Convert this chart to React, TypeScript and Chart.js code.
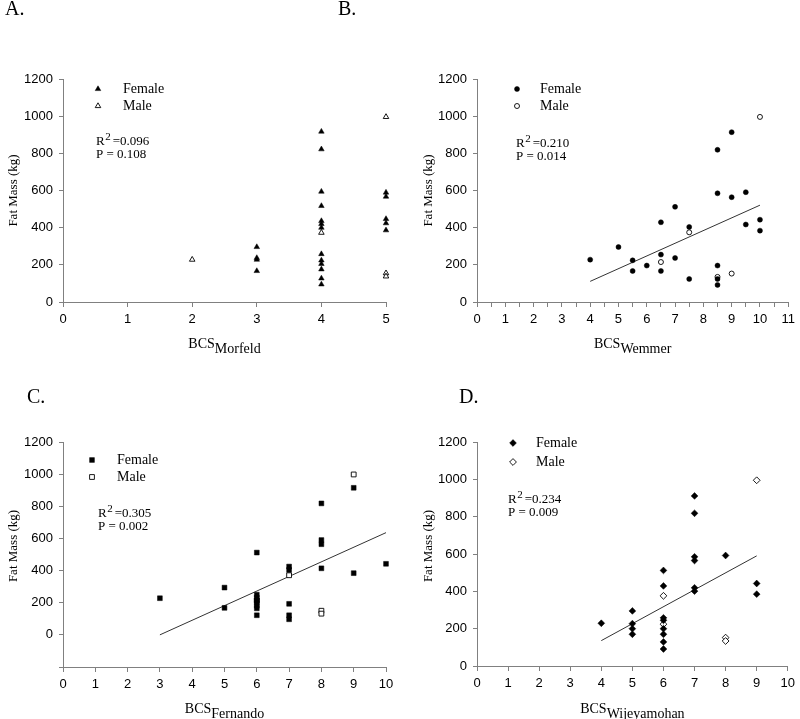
import React, { useEffect, useRef } from 'react';
import { Chart, registerables } from 'chart.js';

Chart.register(...registerables);

const SERIF = '"Liberation Serif", "Times New Roman", serif';
const SANS = '"Liberation Sans", Arial, sans-serif';

// ---------- Panel A : BCS (Morfeld) ----------
const morfeldFemaleX = [3, 3, 3, 3, 4, 4, 4, 4, 4, 4, 4, 4, 4, 4, 4, 4, 4, 5, 5, 5, 5, 5];
const morfeldFemaleY = [296, 237, 228, 167, 917, 822, 594, 517, 436, 420, 400, 258, 224, 205, 176, 127, 95, 589, 567, 447, 424, 386];
const morfeldMaleX = [2, 4, 5, 5, 5];
const morfeldMaleY = [228, 373, 996, 155, 138];

// ---------- Panel B : BCS (Wemmer) ----------
const wemmerFemaleX = [4, 5, 5.5, 5.5, 6, 6.5, 6.5, 6.5, 7, 7, 7.5, 7.5, 8.5, 8.5, 8.5, 8.5, 8.5, 9, 9, 9.5, 9.5, 10, 10];
const wemmerFemaleY = [228, 296, 224, 167, 196, 429, 255, 167, 512, 237, 404, 124, 819, 585, 196, 124, 92, 914, 564, 591, 417, 443, 384];
const wemmerMaleX = [6.5, 7.5, 8.5, 9, 10];
const wemmerMaleY = [215, 375, 135, 153, 996];
const wemmerFitX = [4, 10];
const wemmerFitY = [111, 521];

// ---------- Panel C : BCS (Fernando) ----------
const fernandoFemaleX = [3, 5, 5, 6, 6, 6, 6, 6, 6, 6, 6, 7, 7, 7, 7, 7, 8, 8, 8, 8, 9, 9, 10];
const fernandoFemaleY = [228, 294, 168, 512, 250, 232, 214, 198, 181, 165, 122, 425, 404, 193, 122, 97, 818, 590, 564, 414, 915, 384, 442];
const fernandoMaleX = [6, 7, 8, 8, 9];
const fernandoMaleY = [215, 371, 150, 132, 998];
const fernandoFitX = [3, 10];
const fernandoFitY = [0, 636];

// ---------- Panel D : BCS (Wijeyamohan) ----------
const wijeyamohanFemaleX = [4, 5, 5, 5, 5, 6, 6, 6, 6, 6, 6, 6, 6, 7, 7, 7, 7, 7, 7, 8, 9, 9];
const wijeyamohanFemaleY = [229, 295, 227, 200, 170, 512, 429, 258, 245, 200, 170, 129, 91, 911, 818, 585, 565, 419, 401, 592, 442, 385];
const wijeyamohanMaleX = [6, 6, 8, 8, 9];
const wijeyamohanMaleY = [376, 224, 152, 134, 995];
const wijeyamohanFitX = [4, 9];
const wijeyamohanFitY = [136, 590];

// ---------- tick values ----------
const yTicksStd = [0, 200, 400, 600, 800, 1000, 1200];
const yTicksC = [-200, 0, 200, 400, 600, 800, 1000, 1200];
const xTicksA = [0, 1, 2, 3, 4, 5];
const xTicksB = [0, 0.5, 1, 1.5, 2, 2.5, 3, 3.5, 4, 4.5, 5, 5.5, 6, 6.5, 7, 7.5, 8, 8.5, 9, 9.5, 10, 10.5, 11];
const xTicksC = [0, 1, 2, 3, 4, 5, 6, 7, 8, 9, 10];
const xTicksD = [0, 1, 2, 3, 4, 5, 6, 7, 8, 9, 10];

// ---------- text ----------
const panelLetters = ['A.', 'B.', 'C.', 'D.'];
const statsR2 = ['0.096', '0.210', '0.305', '0.234'];
const statsP = ['0.108', '0.014', '0.002', '0.009'];

// panel-letter placement (page coordinates)
const letterPos = [
  { x: 5, y: 15 },
  { x: 338, y: 15 },
  { x: 27, y: 403 },
  { x: 459, y: 403 },
];

type Marker = 'triangle' | 'circle' | 'rect' | 'rectRot';

type PanelCfg = {
  id: string;
  sub: string;
  left: number;
  top: number;
  width: number;
  height: number;
  padTop: number;
  padRight: number;
  yAxisW: number;
  xAxisH: number;
  xMax: number;
  yMin: number;
  xTicks: number[];
  yTicks: number[];
  marker: Marker;
  radius: number;
  femaleX: number[];
  femaleY: number[];
  maleX: number[];
  maleY: number[];
  fitX?: number[];
  fitY?: number[];
  r2: string;
  p: string;
  xTitleY: number;
  yTitleX: number;
  yTitleY: number;
  legMarkX: number;
  legTextX: number;
  legY1: number;
  legY2: number;
  statsX: number;
  statsY1: number;
  statsY2: number;
};

const panels: PanelCfg[] = [
  {
    id: 'A', sub: 'Morfeld', left: 0, top: 0, width: 400, height: 360,
    padTop: 79, padRight: 14, yAxisW: 63, xAxisH: 58, xMax: 5, yMin: 0,
    xTicks: xTicksA, yTicks: yTicksStd, marker: 'triangle', radius: 3.2,
    femaleX: morfeldFemaleX, femaleY: morfeldFemaleY, maleX: morfeldMaleX, maleY: morfeldMaleY,
    r2: statsR2[0], p: statsP[0],
    xTitleY: 348, yTitleX: 14, yTitleY: 190.5,
    legMarkX: 98, legTextX: 123, legY1: 89, legY2: 106,
    statsX: 96, statsY1: 145, statsY2: 158,
  },
  {
    id: 'B', sub: 'Wemmer', left: 400, top: 0, width: 400, height: 360,
    padTop: 79, padRight: 8, yAxisW: 77, xAxisH: 58, xMax: 11, yMin: 0,
    xTicks: xTicksB, yTicks: yTicksStd, marker: 'circle', radius: 2.5,
    femaleX: wemmerFemaleX, femaleY: wemmerFemaleY, maleX: wemmerMaleX, maleY: wemmerMaleY,
    fitX: wemmerFitX, fitY: wemmerFitY,
    r2: statsR2[1], p: statsP[1],
    xTitleY: 348, yTitleX: 429, yTitleY: 190.5,
    legMarkX: 517, legTextX: 540, legY1: 89, legY2: 106,
    statsX: 516, statsY1: 147, statsY2: 160,
  },
  {
    id: 'C', sub: 'Fernando', left: 0, top: 360, width: 400, height: 359,
    padTop: 82, padRight: 14, yAxisW: 63, xAxisH: 52, xMax: 10, yMin: -200,
    xTicks: xTicksC, yTicks: yTicksC, marker: 'rect', radius: 3.4,
    femaleX: fernandoFemaleX, femaleY: fernandoFemaleY, maleX: fernandoMaleX, maleY: fernandoMaleY,
    fitX: fernandoFitX, fitY: fernandoFitY,
    r2: statsR2[2], p: statsP[2],
    xTitleY: 713, yTitleX: 14, yTitleY: 546,
    legMarkX: 92, legTextX: 117, legY1: 460, legY2: 477,
    statsX: 98, statsY1: 517, statsY2: 530,
  },
  {
    id: 'D', sub: 'Wijeyamohan', left: 400, top: 360, width: 400, height: 359,
    padTop: 82, padRight: 8, yAxisW: 77, xAxisH: 53, xMax: 10, yMin: 0,
    xTicks: xTicksD, yTicks: yTicksStd, marker: 'rectRot', radius: 3.4,
    femaleX: wijeyamohanFemaleX, femaleY: wijeyamohanFemaleY, maleX: wijeyamohanMaleX, maleY: wijeyamohanMaleY,
    fitX: wijeyamohanFitX, fitY: wijeyamohanFitY,
    r2: statsR2[3], p: statsP[3],
    xTitleY: 713, yTitleX: 429, yTitleY: 546,
    legMarkX: 513, legTextX: 536, legY1: 443, legY2: 462,
    statsX: 508, statsY1: 503, statsY2: 516,
  },
];

function toPoints(xs: number[], ys: number[]) {
  return xs.map((x, i) => ({ x, y: ys[i] }));
}

function drawMarker(ctx: CanvasRenderingContext2D, m: Marker, x: number, y: number, r: number, filled: boolean) {
  ctx.save();
  ctx.beginPath();
  if (m === 'triangle') {
    let a = 0;
    ctx.moveTo(x + Math.sin(a) * r, y - Math.cos(a) * r);
    a += (2 * Math.PI) / 3;
    ctx.lineTo(x + Math.sin(a) * r, y - Math.cos(a) * r);
    a += (2 * Math.PI) / 3;
    ctx.lineTo(x + Math.sin(a) * r, y - Math.cos(a) * r);
    ctx.closePath();
  } else if (m === 'circle') {
    ctx.arc(x, y, r, 0, Math.PI * 2);
  } else if (m === 'rect') {
    const s = r * Math.SQRT1_2;
    ctx.rect(x - s, y - s, 2 * s, 2 * s);
  } else {
    ctx.moveTo(x - r, y);
    ctx.lineTo(x, y - r);
    ctx.lineTo(x + r, y);
    ctx.lineTo(x, y + r);
    ctx.closePath();
  }
  ctx.fillStyle = filled ? '#000' : '#fff';
  ctx.fill();
  ctx.lineWidth = filled ? 0.5 : 0.9;
  ctx.strokeStyle = '#000';
  ctx.stroke();
  ctx.restore();
}

function makeOverlay(cfg: PanelCfg) {
  return {
    id: 'panelText' + cfg.id,
    afterDraw(chart: any) {
      const ctx = chart.ctx as CanvasRenderingContext2D;
      const area = chart.chartArea;
      const ox = cfg.left;
      const oy = cfg.top;
      ctx.save();
      ctx.fillStyle = '#000';
      ctx.textAlign = 'left';
      ctx.textBaseline = 'alphabetic';

      // panel letters that fall inside this canvas
      ctx.font = `20px ${SERIF}`;
      panelLetters.forEach((txt, i) => {
        const pos = letterPos[i];
        if (pos.x >= ox && pos.x < ox + cfg.width && pos.y >= oy && pos.y < oy + cfg.height) {
          ctx.fillText(txt, pos.x - ox, pos.y - oy);
        }
      });

      // x-axis title with subscript
      ctx.font = `14px ${SERIF}`;
      const w1 = ctx.measureText('BCS').width;
      const w2 = ctx.measureText(cfg.sub).width;
      const cx = (area.left + area.right) / 2;
      const sx = cx - (w1 + w2) / 2;
      ctx.fillText('BCS', sx, cfg.xTitleY - oy);
      ctx.fillText(cfg.sub, sx + w1, cfg.xTitleY - oy + 5);

      // y-axis title
      ctx.save();
      ctx.translate(cfg.yTitleX - ox, cfg.yTitleY - oy);
      ctx.rotate(-Math.PI / 2);
      ctx.textAlign = 'center';
      ctx.textBaseline = 'middle';
      ctx.font = `13px ${SERIF}`;
      ctx.fillText('Fat Mass (kg)', 0, 0);
      ctx.restore();

      // legend
      drawMarker(ctx, cfg.marker, cfg.legMarkX - ox, cfg.legY1 - oy, cfg.radius, true);
      drawMarker(ctx, cfg.marker, cfg.legMarkX - ox, cfg.legY2 - oy, cfg.radius, false);
      ctx.font = `14px ${SERIF}`;
      ctx.textBaseline = 'middle';
      ctx.fillText('Female', cfg.legTextX - ox, cfg.legY1 - oy);
      ctx.fillText('Male', cfg.legTextX - ox, cfg.legY2 - oy);

      // stats
      ctx.textBaseline = 'alphabetic';
      ctx.font = `13px ${SERIF}`;
      const rx = cfg.statsX - ox;
      ctx.fillText('R', rx, cfg.statsY1 - oy);
      const rw = ctx.measureText('R').width;
      ctx.font = `11px ${SERIF}`;
      ctx.fillText('2', rx + rw + 0.5, cfg.statsY1 - oy - 5);
      const sw = ctx.measureText('2').width;
      ctx.font = `13px ${SERIF}`;
      ctx.fillText('=' + cfg.r2, rx + rw + sw + 2.5, cfg.statsY1 - oy);
      ctx.fillText('P = ' + cfg.p, rx, cfg.statsY2 - oy);
      ctx.restore();
    },
  };
}

function Panel({ cfg }: { cfg: PanelCfg }) {
  const ref = useRef<HTMLCanvasElement>(null);
  useEffect(() => {
    const canvas = ref.current;
    if (!canvas) return;
    const datasets: any[] = [
      {
        label: 'Female',
        data: toPoints(cfg.femaleX, cfg.femaleY),
        pointStyle: cfg.marker,
        pointRadius: cfg.radius,
        backgroundColor: '#000',
        borderColor: '#000',
        borderWidth: 0.5,
        clip: false,
      },
      {
        label: 'Male',
        data: toPoints(cfg.maleX, cfg.maleY),
        pointStyle: cfg.marker,
        pointRadius: cfg.radius,
        backgroundColor: '#fff',
        borderColor: '#000',
        borderWidth: 0.9,
        clip: false,
      },
    ];
    if (cfg.fitX && cfg.fitY) {
      datasets.push({
        label: 'Fit',
        data: toPoints(cfg.fitX, cfg.fitY),
        showLine: true,
        pointRadius: 0,
        borderColor: '#333',
        borderWidth: 1,
        backgroundColor: '#333',
        clip: false,
      });
    }
    const gridCommon = { display: true, drawOnChartArea: false, drawTicks: true, color: '#808080', lineWidth: 1 };
    const borderCommon = { display: true, color: '#808080', width: 1 };
    const chart = new Chart(canvas, {
      type: 'scatter',
      data: { datasets },
      options: {
        responsive: false,
        maintainAspectRatio: false,
        animation: false,
        events: [],
        layout: {
          autoPadding: false,
          padding: { left: 0, right: cfg.padRight, top: cfg.padTop, bottom: 0 },
        },
        plugins: { legend: { display: false }, tooltip: { enabled: false }, title: { display: false } },
        scales: {
          x: {
            type: 'linear',
            min: 0,
            max: cfg.xMax,
            afterFit: (s: any) => { s.height = cfg.xAxisH; },
            afterBuildTicks: (s: any) => { s.ticks = cfg.xTicks.map((v) => ({ value: v })); },
            ticks: {
              autoSkip: false,
              maxRotation: 0,
              color: '#000',
              padding: 5,
              font: { family: SANS, size: 13 },
              callback: (v: any) => (Number.isInteger(Number(v)) ? String(v) : ''),
            },
            grid: { ...gridCommon, tickLength: 5 },
            border: borderCommon,
          },
          y: {
            type: 'linear',
            min: cfg.yMin,
            max: 1200,
            afterFit: (s: any) => { s.width = cfg.yAxisW; },
            afterBuildTicks: (s: any) => { s.ticks = cfg.yTicks.map((v) => ({ value: v })); },
            ticks: {
              autoSkip: false,
              color: '#000',
              padding: 6,
              font: { family: SANS, size: 13 },
              callback: (v: any) => (Number(v) < 0 ? '' : String(v)),
            },
            grid: { ...gridCommon, tickLength: 4 },
            border: borderCommon,
          },
        },
      } as any,
      plugins: [makeOverlay(cfg)],
    });
    return () => chart.destroy();
  }, [cfg]);
  return (
    <canvas
      ref={ref}
      width={cfg.width}
      height={cfg.height}
      style={{ position: 'absolute', left: cfg.left, top: cfg.top, width: cfg.width, height: cfg.height }}
    />
  );
}

export default function App() {
  return (
    <div style={{ position: 'absolute', left: 0, top: 0, width: 800, height: 719, background: '#fff', overflow: 'hidden' }}>
      {panels.map((p) => (
        <Panel key={p.id} cfg={p} />
      ))}
    </div>
  );
}
